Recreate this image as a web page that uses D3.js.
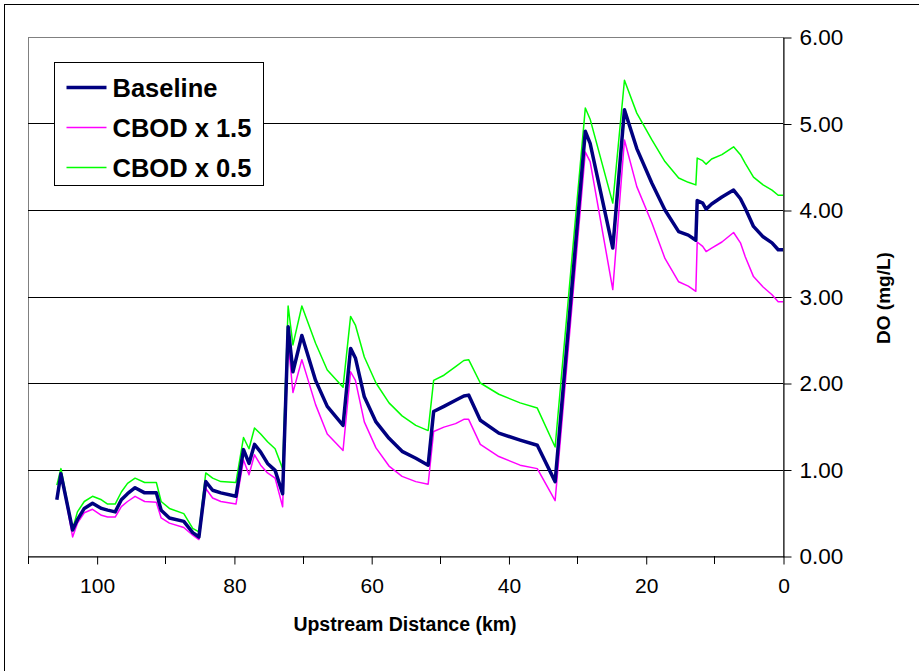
<!DOCTYPE html>
<html>
<head>
<meta charset="utf-8">
<script src="https://cdn.jsdelivr.net/npm/d3@7"></script>
<style>
  html, body { margin: 0; padding: 0; background: #fff; }
  svg { display: block; font-family: "Liberation Sans", Arial, sans-serif; }
</style>
</head>
<body>
<div id="chart"></div>
<script>
// upstream distance (km) of each model reach point
const km = [105.8, 105.2, 103.5, 102.8, 101.8, 100.6, 99.3, 98.4, 97.3, 96.4,
  95.5, 94.4, 93.0, 91.3, 90.6, 89.4, 87.3, 86.0, 85.1, 84.1,
  83.1, 81.9, 79.7, 78.6, 77.8, 77.0, 76.1, 75.1, 74.0, 72.9,
  72.1, 71.4, 70.1, 68.1, 66.4, 64.1, 63.0, 62.3, 61.0, 59.3,
  57.4, 55.5, 53.5, 51.7, 50.9, 49.4, 47.7, 46.5, 45.8, 44.1,
  41.4, 38.3, 35.8, 33.2, 28.8, 28.1, 24.8, 23.1, 21.3, 19.1,
  17.2, 15.2, 13.8, 12.7, 12.5, 11.7, 11.2, 10.4, 8.9, 7.2,
  6.2, 5.5, 4.3, 2.9, 1.6, 0.7, 0];

const baseline = [0.65, 0.95, 0.30, 0.42, 0.55, 0.61, 0.55, 0.53, 0.51, 0.65,
  0.72, 0.79, 0.73, 0.73, 0.53, 0.44, 0.40, 0.27, 0.22, 0.86,
  0.76, 0.73, 0.69, 1.23, 1.07, 1.29, 1.20, 1.07, 0.99, 0.72,
  2.65, 2.13, 2.55, 2.03, 1.73, 1.51, 2.40, 2.29, 1.84, 1.55,
  1.36, 1.21, 1.13, 1.05, 1.67, 1.73, 1.80, 1.85, 1.86, 1.57,
  1.42, 1.34, 1.28, 0.86, 4.91, 4.77, 3.56, 5.16, 4.71, 4.31,
  4.00, 3.75, 3.71, 3.65, 4.11, 4.08, 4.01, 4.07, 4.15, 4.23,
  4.13, 4.02, 3.81, 3.69, 3.62, 3.54, 3.54];

const cbodHigh = [0.67, 0.96, 0.22, 0.38, 0.50, 0.54, 0.47, 0.45, 0.45, 0.57,
  0.63, 0.69, 0.63, 0.62, 0.44, 0.38, 0.33, 0.24, 0.19, 0.78,
  0.67, 0.63, 0.60, 1.11, 0.94, 1.17, 1.05, 0.96, 0.90, 0.57,
  2.48, 1.89, 2.27, 1.75, 1.41, 1.22, 2.13, 2.03, 1.55, 1.25,
  1.04, 0.92, 0.86, 0.83, 1.44, 1.49, 1.53, 1.58, 1.58, 1.29,
  1.15, 1.05, 1.01, 0.64, 4.67, 4.56, 3.08, 4.81, 4.27, 3.85,
  3.44, 3.17, 3.12, 3.06, 3.63, 3.58, 3.52, 3.56, 3.63, 3.74,
  3.62, 3.46, 3.23, 3.11, 3.02, 2.94, 2.94];

const cbodLow = [0.82, 1.01, 0.31, 0.51, 0.63, 0.69, 0.65, 0.60, 0.60, 0.74,
  0.84, 0.90, 0.85, 0.85, 0.63, 0.55, 0.49, 0.32, 0.28, 0.96,
  0.90, 0.86, 0.85, 1.37, 1.24, 1.48, 1.41, 1.32, 1.24, 1.01,
  2.89, 2.44, 2.89, 2.46, 2.15, 1.95, 2.77, 2.67, 2.30, 2.00,
  1.77, 1.62, 1.51, 1.45, 2.03, 2.09, 2.19, 2.26, 2.27, 2.00,
  1.87, 1.77, 1.71, 1.26, 5.18, 5.05, 4.08, 5.50, 5.12, 4.81,
  4.56, 4.37, 4.32, 4.29, 4.60, 4.57, 4.53, 4.59, 4.64, 4.73,
  4.64, 4.54, 4.38, 4.29, 4.23, 4.17, 4.17];

const seriesNames = ['Baseline', 'CBOD x 1.5', 'CBOD x 0.5'];
const xMajorTicks = [100, 80, 60, 40, 20, 0];
const xMinorTicks = [110, 90, 70, 50, 30, 10];
const yTicks = [0, 1, 2, 3, 4, 5, 6];

const W = 919, H = 671;
const plot = { left: 28, right: 783, top: 37, bottom: 556 };
const FONT = '"Liberation Sans", Arial, sans-serif';

const svg = d3.select('#chart').append('svg').attr('width', W).attr('height', H);

// outer chart frame
svg.append('rect').attr('x', 4.5).attr('y', 4.5).attr('width', W + 10).attr('height', H + 10)
  .attr('fill', 'none').attr('stroke', '#000').attr('stroke-width', 1);

const x = d3.scaleLinear().domain([110, 0]).range([plot.left, plot.right]);
const y = d3.scaleLinear().domain([0, 6]).range([plot.bottom, plot.top]);

// plot area border (grey)
svg.append('rect')
  .attr('x', plot.left + 0.5).attr('y', y(6) + 0.5)
  .attr('width', plot.right - plot.left).attr('height', plot.bottom - y(6))
  .attr('fill', 'none').attr('stroke', '#808080').attr('stroke-width', 1);

// horizontal gridlines
svg.append('g').selectAll('line').data(yTicks.filter(d => d > 0 && d < 6)).join('line')
  .attr('x1', plot.left).attr('x2', plot.right)
  .attr('y1', d => Math.round(y(d)) + 0.5).attr('y2', d => Math.round(y(d)) + 0.5)
  .attr('stroke', '#000').attr('stroke-width', 1);

// x axis (bottom)
const xAxis = svg.append('g').attr('transform', `translate(0.5,${plot.bottom + 0.5})`)
  .call(d3.axisBottom(x).tickValues(xMajorTicks).tickFormat(d3.format('d'))
    .tickSizeInner(8).tickSizeOuter(0).tickPadding(14));
xAxis.select('.domain').attr('stroke', '#000');
xAxis.selectAll('text').attr('font-size', 21).attr('fill', '#000').attr('font-family', FONT);
svg.append('g').selectAll('line').data(xMinorTicks).join('line')
  .attr('x1', d => Math.round(x(d)) + 0.5).attr('x2', d => Math.round(x(d)) + 0.5)
  .attr('y1', plot.bottom).attr('y2', plot.bottom + 8)
  .attr('stroke', '#000');

// y axis (right)
const yAxis = svg.append('g').attr('transform', `translate(${plot.right + 0.5},0.5)`)
  .call(d3.axisRight(y).tickValues(yTicks).tickFormat(d3.format('.2f'))
    .tickSizeInner(8).tickSizeOuter(0).tickPadding(8));
yAxis.select('.domain').attr('stroke', '#000');
yAxis.selectAll('text').attr('font-size', 22.5).attr('fill', '#000').attr('font-family', FONT);

// axis titles
svg.append('text').attr('x', 405).attr('y', 631).attr('text-anchor', 'middle')
  .attr('font-size', 19.5).attr('font-weight', 'bold').text('Upstream Distance (km)');
svg.append('text').attr('transform', 'translate(890,298) rotate(-90)')
  .attr('text-anchor', 'middle').attr('font-size', 19).attr('font-weight', 'bold')
  .text('DO (mg/L)');

// series lines
const series = [
  { name: seriesNames[0], vals: baseline, color: '#000080', width: 3.5 },
  { name: seriesNames[1], vals: cbodHigh, color: '#ff00ff', width: 1.5 },
  { name: seriesNames[2], vals: cbodLow, color: '#00ff00', width: 1.5 },
];
const line = d3.line().x((d, i) => x(km[i])).y(d => y(d));
[series[2], series[1], series[0]].forEach(s => {
  svg.append('path').datum(s.vals).attr('d', line)
    .attr('fill', 'none').attr('stroke', s.color).attr('stroke-width', s.width)
    .attr('stroke-linejoin', 'round');
});

// legend
const lg = svg.append('g').attr('transform', 'translate(54.5,62.5)');
lg.append('rect').attr('width', 209).attr('height', 123)
  .attr('fill', '#fff').attr('stroke', '#000').attr('stroke-width', 1);
series.forEach((s, i) => {
  const yy = 25 + i * 40;
  lg.append('line').attr('x1', 12).attr('x2', 52).attr('y1', yy).attr('y2', yy)
    .attr('stroke', s.color).attr('stroke-width', s.width);
  lg.append('text').attr('x', 58).attr('y', yy + 9).attr('font-size', 25.5)
    .attr('font-weight', 'bold').text(s.name);
});
</script>
</body>
</html>
